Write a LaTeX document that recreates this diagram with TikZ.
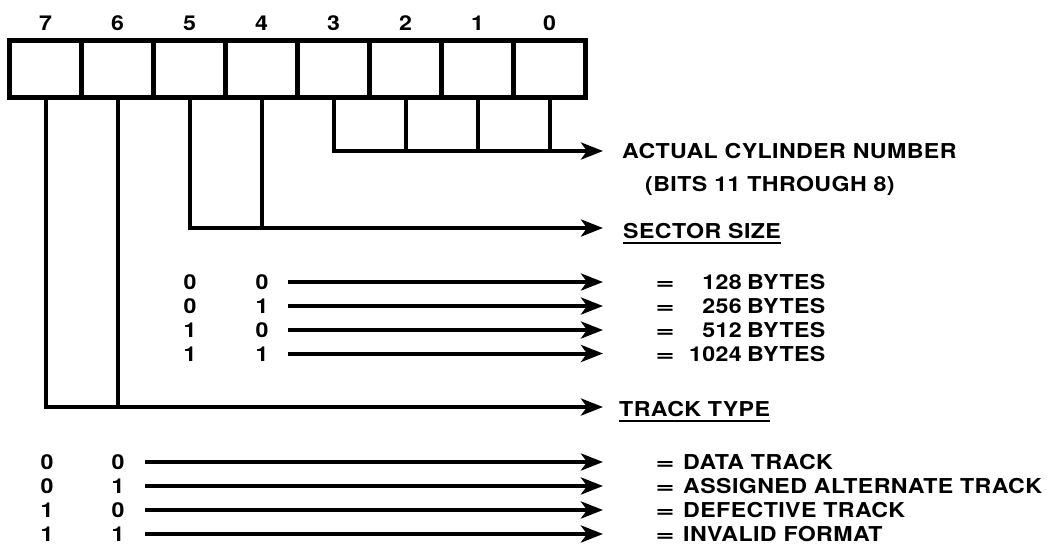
\documentclass[tikz,border=0pt]{standalone}
\usepackage{fontspec}
\usepackage{graphicx}
\setmainfont{TeX Gyre Heros}[FakeStretch=1.13, LetterSpace=2]
\usetikzlibrary{arrows.meta}
\newcommand{\wideeq}{\scalebox{1.4}[1]{=}}
\begin{document}
\begin{tikzpicture}[x=1pt,y=-1pt,
  every node/.style={font=\fontsize{20.5}{24}\selectfont\bfseries, inner sep=0pt},
  cell/.style={draw, line width=5pt, minimum width=72pt, minimum height=57pt, inner sep=0pt},
  link/.style={line width=4pt},
  arr/.style={line width=4pt, -{Stealth[length=22pt,width=17pt,inset=6pt]}},
  uline/.style={line width=2.5pt}
]
\useasboundingbox (0,0) rectangle (1047,550);
% register cells and bit numbers
\foreach \b in {7,...,0}{
  \pgfmathsetmacro{\xx}{45.5+72*(7-\b)}
  \node[cell] (c\b) at (\xx,69) {};
  \node[anchor=base] (l\b) at (\xx,30) {\b};
}
% bits 3..0 : actual cylinder number
\coordinate (tipA) at (603,151);
\draw[arr] (c3.south) |- (tipA);
\foreach \b in {2,1,0}{ \draw[link] (c\b.south) -- (c\b.south |- tipA); }
\node[anchor=base west] (acn) at (622,158.5) {ACTUAL CYLINDER NUMBER};
\node[anchor=base west] (bits) at (645,191.5) {(BITS 11 THROUGH 8)};
% bits 5,4 : sector size
\coordinate (tipS) at (603,228);
\draw[arr] (c5.south) |- (tipS);
\draw[link] (c4.south) -- (c4.south |- tipS);
\node[anchor=base west] (ss) at (623,238.5) {SECTOR SIZE};
\draw[uline] ([yshift=-4.5pt]ss.base west) -- ([yshift=-4.5pt]ss.base east);
\foreach \i/\y/\p/\q/\n in {1/282/0/0/128, 2/306/0/1/256, 3/330/1/0/512, 4/353.5/1/1/1024}{
  \node[anchor=base] (sp\i) at (190,\y+7.5) {\p};
  \node[anchor=base] (sq\i) at (262,\y+7.5) {\q};
  \coordinate (sa\i) at (288,\y);
  \coordinate (sb\i) at (603,\y);
  \draw[arr] (sa\i) -- (sb\i);
  \node[anchor=base] (se\i) at (665,\y+7.5) {\wideeq};
  \node[anchor=base east] (sn\i) at (742,\y+7.5) {\n};
  \node[anchor=base west] (sby\i) at (747,\y+7.5) {BYTES};
}
% bits 7,6 : track type
\coordinate (tipT) at (603,407);
\draw[arr] (c7.south) |- (tipT);
\draw[link] (c6.south) -- (c6.south |- tipT);
\node[anchor=base west] (tt) at (619,416.5) {TRACK TYPE};
\draw[uline] ([yshift=-4.5pt]tt.base west) -- ([yshift=-4.5pt]tt.base east);
\foreach \i/\y/\p/\q/\t in {1/462/0/0/DATA TRACK, 2/486/0/1/ASSIGNED ALTERNATE TRACK, 3/510/1/0/DEFECTIVE TRACK, 4/534/1/1/INVALID FORMAT}{
  \node[anchor=base] (tp\i) at (47,\y+7.5) {\p};
  \node[anchor=base] (tq\i) at (118,\y+7.5) {\q};
  \coordinate (ta\i) at (145,\y);
  \coordinate (tb\i) at (603,\y);
  \draw[arr] (ta\i) -- (tb\i);
  \node[anchor=base] (te\i) at (665,\y+7.5) {\wideeq};
  \node[anchor=base west] (tx\i) at (683,\y+7.5) {\t};
}
\end{tikzpicture}
\end{document}
